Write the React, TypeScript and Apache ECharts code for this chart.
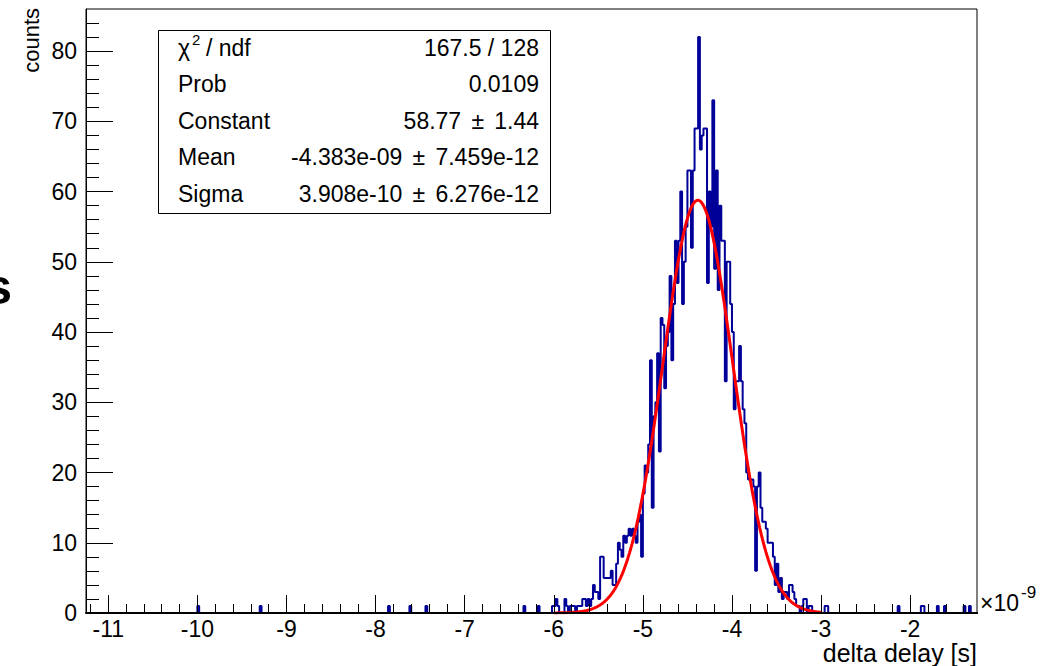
import React, { useEffect, useRef } from 'react';
import * as echarts from 'echarts';

// ---- axis ranges / tick labels ----
const X_MIN = -11.25;
const X_MAX = -1.25;
const Y_MIN = 0;
const Y_MAX = 86;
const xMajorTicks = [-11, -10, -9, -8, -7, -6, -5, -4, -3, -2];
const yMajorTicks = [0, 10, 20, 30, 40, 50, 60, 70, 80];

// ---- histogram binning ----
const HIST_MIN = -11.24;
const BIN_WIDTH = 0.02;
const N_BINS = 500;

// counts of consecutive bins starting at coreStart (bin left edges)
const coreStart = -6.0;
const coreCounts = [
  1, 2, 1, 0, 0, 0, 2, 1, 0, 1,
  1, 1, 0, 1, 1, 1, 2, 2, 1, 2,
  1, 2, 4, 3, 3, 2, 8, 8, 5, 5,
  5, 5, 6, 4, 4, 7, 10, 9, 8, 11,
  10, 11, 12, 11, 12, 11, 10, 13, 14, 8,
  17, 21, 20, 24, 36, 15, 28, 30, 37, 23,
  42, 41, 32, 38, 40, 48, 36, 44, 53, 47,
  53, 60, 44, 50, 55, 63, 63, 52, 63, 69,
  69, 82, 66, 68, 69, 69, 47, 60, 55, 73,
  49, 63, 46, 58, 53, 53, 33, 50, 50, 44,
  40, 29, 33, 33, 38, 33, 29, 27, 20, 19,
  19, 19, 18, 6, 18, 20, 15, 13, 13, 12,
  10, 10, 10, 8, 4, 7, 3, 5, 2, 3,
  3, 2, 4, 4, 3, 2, 1, 1, 0, 1,
  2, 2, 0, 1, 1, 0, 0, 0, 0, 0,
  0, 0, 1, 1,
];

// isolated entries far from the peak (bin centres)
const outlierX = [-9.99, -9.29, -7.85, -7.61, -7.43, -6.33, -6.17, -6.01, -2.13, -1.87, -1.85, -1.69, -1.61, -1.39, -1.33];
const outlierCounts = [1, 1, 1, 1, 1, 1, 1, 1, 1, 1, 1, 1, 1, 1, 1];

// ---- Gaussian fit (parameters from the stats box) ----
const fitParams = [58.77, -4.383, 0.3908]; // Constant, Mean, Sigma (x in 1e-9 s)
const fitRange = [-6.0, -3.0];

// ---- stats box ----
const PM = ' \u2006\u00b1 \u2006';
const statsLabels = ['', 'Prob', 'Constant', 'Mean', 'Sigma'];
const statsValues = ['167.5 / 128', '0.0109', `58.77${PM}1.44`, `-4.383e-09${PM}7.459e-12`, `3.908e-10${PM}6.276e-12`];

const FONT = '"Liberation Sans", Arial, Helvetica, sans-serif';

function buildHist(): number[][] {
  const c: number[] = new Array(N_BINS).fill(0);
  const k0 = Math.round((coreStart - HIST_MIN) / BIN_WIDTH);
  coreCounts.forEach((v, i) => {
    if (k0 + i < N_BINS) c[k0 + i] = v;
  });
  outlierX.forEach((x, i) => {
    const k = Math.floor((x - HIST_MIN) / BIN_WIDTH);
    if (k >= 0 && k < N_BINS) c[k] += outlierCounts[i];
  });
  const pts: number[][] = c.map((v, i) => [Number((HIST_MIN + i * BIN_WIDTH).toFixed(4)), v]);
  pts.push([Number((HIST_MIN + N_BINS * BIN_WIDTH).toFixed(4)), c[N_BINS - 1]]);
  return pts;
}

function buildFit(): number[][] {
  const [A, mu, s] = fitParams;
  const pts: number[][] = [];
  const n = 300;
  for (let i = 0; i <= n; i++) {
    const x = fitRange[0] + ((fitRange[1] - fitRange[0]) * i) / n;
    const z = (x - mu) / s;
    pts.push([x, A * Math.exp(-0.5 * z * z)]);
  }
  return pts;
}

function minorXTicks(): number[] {
  const out: number[] = [];
  for (let i = -56; i <= -7; i++) {
    if (i % 5 !== 0) out.push(Number((i / 5).toFixed(2)));
  }
  return out;
}

export default function App() {
  const ref = useRef<HTMLDivElement>(null);

  useEffect(() => {
    if (!ref.current) return;
    const chart = echarts.init(ref.current, undefined, { renderer: 'svg' });

    const rowY = (i: number) => 47.5 + 36.6 * i;
    const boxLeft = 158;
    const boxTop = 30;
    const boxRight = 550;
    const boxBottom = 213;

    const graphics: any[] = [
      {
        type: 'rect',
        z: 100,
        shape: { x: boxLeft + 0.5, y: boxTop + 0.5, width: boxRight - boxLeft, height: boxBottom - boxTop },
        style: { fill: '#fff', stroke: '#000', lineWidth: 1 },
      },
      // chi^2 / ndf
      { type: 'text', z: 101, x: 178, y: rowY(0), style: { text: '\u03c7', font: `23px ${FONT}`, fill: '#000', verticalAlign: 'middle', align: 'left' } },
      { type: 'text', z: 101, x: 192, y: rowY(0) - 8, style: { text: '2', font: `15px ${FONT}`, fill: '#000', verticalAlign: 'middle', align: 'left' } },
      { type: 'text', z: 101, x: 206, y: rowY(0), style: { text: '/ ndf', font: `23px ${FONT}`, fill: '#000', verticalAlign: 'middle', align: 'left' } },
    ];
    statsLabels.forEach((t, i) => {
      if (t) {
        graphics.push({ type: 'text', z: 101, x: 178, y: rowY(i), style: { text: t, font: `23px ${FONT}`, fill: '#000', verticalAlign: 'middle', align: 'left' } });
      }
    });
    statsValues.forEach((t, i) => {
      graphics.push({ type: 'text', z: 101, x: 539, y: rowY(i), style: { text: t, font: `23px ${FONT}`, fill: '#000', verticalAlign: 'middle', align: 'right' } });
    });
    // axis titles, exponent, and cropped fragment at left
    graphics.push(
      { type: 'text', z: 101, x: 31, y: 8, rotation: Math.PI / 2, style: { text: 'counts', font: `22px ${FONT}`, fill: '#000', verticalAlign: 'middle', align: 'right' } },
      { type: 'text', z: 101, x: 977, y: 653, style: { text: 'delta delay [s]', font: `25px ${FONT}`, fill: '#000', verticalAlign: 'middle', align: 'right' } },
      { type: 'text', z: 101, x: 980, y: 603, style: { text: '\u00d710', font: `23px ${FONT}`, fill: '#000', verticalAlign: 'middle', align: 'left' } },
      { type: 'text', z: 101, x: 1021, y: 592, style: { text: '-9', font: `17px ${FONT}`, fill: '#000', verticalAlign: 'middle', align: 'left' } },
      { type: 'text', z: 101, x: 12, y: 287, style: { text: 's', font: `bold 50px ${FONT}`, fill: '#000', verticalAlign: 'middle', align: 'right' } },
    );

    const axisLineStyle = { color: '#000', width: 1 };
    const option: any = {
      animation: false,
      backgroundColor: '#fff',
      grid: { left: 86, right: 74, top: 9, bottom: 53, show: true, borderColor: '#000', borderWidth: 1, backgroundColor: 'transparent', containLabel: false },
      xAxis: [
        {
          type: 'value', min: X_MIN, max: X_MAX, position: 'bottom', z: 5,
          axisLine: { show: true, onZero: false, lineStyle: { color: '#000', width: 2 } },
          axisTick: { show: true, inside: true, length: 18, customValues: xMajorTicks, lineStyle: axisLineStyle },
          axisLabel: { show: true, customValues: xMajorTicks, fontSize: 23, fontFamily: FONT, color: '#000', margin: 4, formatter: (v: number) => String(v) },
          splitLine: { show: false },
        },
        {
          type: 'value', min: X_MIN, max: X_MAX, position: 'bottom', z: 5,
          axisLine: { show: false, onZero: false },
          axisTick: { show: true, inside: true, length: 9, customValues: minorXTicks(), lineStyle: axisLineStyle },
          axisLabel: { show: false },
          splitLine: { show: false },
        },
      ],
      yAxis: {
        type: 'value', min: Y_MIN, max: Y_MAX, interval: 10, z: 5,
        axisLine: { show: true, onZero: false, lineStyle: axisLineStyle },
        axisTick: { show: true, inside: true, length: 27, customValues: yMajorTicks, lineStyle: axisLineStyle },
        minorTick: { show: true, splitNumber: 5, length: 13, lineStyle: axisLineStyle },
        axisLabel: { show: true, customValues: yMajorTicks, fontSize: 23, fontFamily: FONT, color: '#000', margin: 9 },
        splitLine: { show: false },
        minorSplitLine: { show: false },
      },
      series: [
        {
          type: 'line', name: 'hist', data: buildHist(), step: 'end', showSymbol: false, symbol: 'none',
          lineStyle: { color: '#000099', width: 2 }, z: 2, clip: true,
        },
        {
          type: 'line', name: 'fit', data: buildFit(), showSymbol: false, symbol: 'none', smooth: false,
          lineStyle: { color: '#ff0000', width: 3 }, z: 3, clip: true,
        },
      ],
      graphic: graphics,
    };
    chart.setOption(option);
    return () => chart.dispose();
  }, []);

  return (
    <div
      ref={ref}
      style={{ position: 'absolute', left: 0, top: 0, width: 1051, height: 666, background: '#fff' }}
    />
  );
}
